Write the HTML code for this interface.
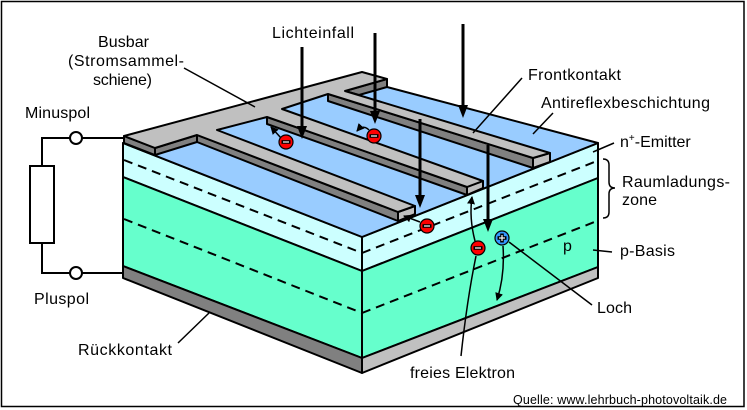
<!DOCTYPE html>
<html><head><meta charset="utf-8">
<style>
html,body{margin:0;padding:0;background:#fff;}
svg{display:block;}
text{font-family:"Liberation Sans",Arial,sans-serif;font-size:16px;fill:#000;}
</style></head><body>
<svg width="747" height="410" viewBox="0 0 747 410" xmlns="http://www.w3.org/2000/svg">
<defs>
<marker id="ah" markerWidth="8" markerHeight="8" refX="7" refY="4" orient="auto" markerUnits="userSpaceOnUse">
<path d="M0,0 L8,4 L0,8 Z" fill="#000"/>
</marker>
</defs>
<rect x="1.5" y="1.5" width="742.5" height="405" fill="#fff" stroke="#000" stroke-width="1.5"/>

<!-- block faces -->
<g stroke="#000" stroke-width="2" stroke-linejoin="round">
<polygon points="123,143 362,237 362,271 123,177" fill="#ccffff"/>
<polygon points="123,177 362,271 362,358 123,266" fill="#66ffcc"/>
<polygon points="123,266 362,358 362,373 123,278" fill="#808080"/>
<polygon points="362,237 598,143 598,178 362,271" fill="#ccffff"/>
<polygon points="362,271 598,178 598,267 362,358" fill="#66ffcc"/>
<polygon points="362,358 598,267 598,278 362,373" fill="#c0c0c0"/>
<polygon points="123,143 362,237 598,143 387,87 362,80" fill="#99ccff"/>
</g>

<!-- dashed junction lines -->
<g stroke="#000" stroke-width="2" stroke-dasharray="9,6" fill="none">
<line x1="124" y1="160" x2="362" y2="253"/>
<line x1="362" y1="253" x2="597" y2="161"/>
<line x1="124" y1="219" x2="362" y2="313"/>
<line x1="362" y1="313" x2="597" y2="221"/>
</g>

<!-- busbar & fingers -->
<g stroke="#000" stroke-width="2" stroke-linejoin="round">
<polygon points="124,136 155,148 155,155 124,143" fill="#808080"/>
<polygon points="155,148 197,135 197,142 155,155" fill="#808080"/>
<polygon points="197,135 398,212 398,221 197,142" fill="#808080"/>
<polygon points="398,212 415,206 415,214 398,221" fill="#c0c0c0"/>
<polygon points="267,117 467,187 467,195 267,124" fill="#808080"/>
<polygon points="467,187 483,181 483,188 467,195" fill="#c0c0c0"/>
<polygon points="328,94 533,158 533,168 328,101" fill="#808080"/>
<polygon points="533,158 550,153 550,162 533,168" fill="#c0c0c0"/>
<polygon points="345,91 387,79 387,87 359,95" fill="#808080"/>
<polygon points="124,136 362,72 387,79 345,91 550,153 533,158 328,94 282,109 483,181 467,187 267,117 217,130 415,206 398,212 197,135 155,148" fill="#c0c0c0"/>
</g>

<!-- circuit -->
<g stroke="#000" stroke-width="2" fill="none">
<line x1="123" y1="138" x2="82" y2="138"/>
<polyline points="70,138 42,138 42,166"/>
<rect x="30" y="166" width="24" height="77" fill="#fff"/>
<polyline points="42,243 42,273 70,273"/>
<line x1="82" y1="273" x2="123" y2="273"/>
<circle cx="76" cy="138" r="6" fill="#fff"/>
<circle cx="76" cy="273" r="6" fill="#fff"/>
</g>

<!-- leader lines -->
<g stroke="#000" stroke-width="1.5" fill="none">
<line x1="184" y1="68" x2="255" y2="107"/>
<line x1="473" y1="133" x2="522" y2="78"/>
<line x1="533" y1="134" x2="553" y2="113"/>
<line x1="593" y1="152" x2="614" y2="143"/>
<line x1="593" y1="250" x2="612" y2="252"/>
<line x1="509" y1="242" x2="592" y2="305"/>
<path d="M476,256 Q467,300 461,356"/>
<line x1="178" y1="343" x2="209" y2="313"/>
<path d="M603,159 Q609,159 609,165 L609,182 Q609,188 615,188 Q609,188 609,194 L609,212 Q609,218 603,218"/>
</g>

<!-- carrier arrows -->
<g stroke="#000" stroke-width="1.5" fill="none" marker-end="url(#ah)">
<path d="M281,138 L271,127"/>
<path d="M369,130 Q363,124 357,131"/>
<path d="M420,222 L404,216"/>
<path d="M475,241 Q469,218 472,197"/>
<path d="M503,246 Q505,275 497,300"/>
</g>

<!-- electrons -->
<g stroke="#000" stroke-width="1.2">
<circle cx="286" cy="142" r="7" fill="#ff0000"/>
<circle cx="374" cy="136" r="7" fill="#ff0000"/>
<circle cx="427" cy="226" r="7" fill="#ff0000"/>
<circle cx="478" cy="248" r="7" fill="#ff0000"/>
<circle cx="502" cy="238" r="7" fill="#3399ff"/>
</g>
<g fill="#000">
<rect x="281.5" y="140.2" width="9" height="3.6"/>
<rect x="369.5" y="134.2" width="9" height="3.6"/>
<rect x="422.5" y="224.2" width="9" height="3.6"/>
<rect x="473.5" y="246.2" width="9" height="3.6"/>
<rect x="497.5" y="236.2" width="9" height="3.6"/>
<rect x="500.2" y="233.5" width="3.6" height="9"/>
</g>
<g fill="#fff">
<rect x="283" y="141.4" width="6" height="1.2"/>
<rect x="371" y="135.4" width="6" height="1.2"/>
<rect x="424" y="225.4" width="6" height="1.2"/>
<rect x="475" y="247.4" width="6" height="1.2"/>
<rect x="499" y="237.4" width="6" height="1.2"/>
<rect x="501.4" y="235" width="1.2" height="6"/>
</g>

<!-- light arrows -->
<g stroke="#000" stroke-width="3">
<line x1="302" y1="47" x2="302" y2="128"/>
<line x1="375" y1="33" x2="375" y2="113"/>
<line x1="463" y1="24" x2="463" y2="107"/>
<line x1="420" y1="119" x2="420" y2="197"/>
<line x1="488" y1="145" x2="488" y2="221"/>
</g>
<g fill="#000">
<polygon points="297,126 307,126 302,139"/>
<polygon points="370,111 380,111 375,124"/>
<polygon points="458,105 468,105 463,118"/>
<polygon points="415,195 425,195 420,208"/>
<polygon points="483,219 493,219 488,232"/>
</g>

<!-- labels -->
<text x="98" y="47" textLength="51">Busbar</text>
<text x="68" y="66" textLength="116">(Stromsammel-</text>
<text x="93" y="85" textLength="59">schiene)</text>
<text x="272" y="38" textLength="82">Lichteinfall</text>
<text x="528" y="80" textLength="93">Frontkontakt</text>
<text x="541" y="108" textLength="169">Antireflexbeschichtung</text>
<text x="620" y="147">n<tspan font-size="10" dy="-6">+</tspan><tspan dy="6">-Emitter</tspan></text>
<text x="622" y="187" textLength="108">Raumladungs-</text>
<text x="622" y="205" textLength="35">zone</text>
<text x="620" y="256" textLength="55">p-Basis</text>
<text x="563" y="251">p</text>
<text x="597" y="313" textLength="35">Loch</text>
<text x="410" y="378" textLength="105">freies Elektron</text>
<text x="25" y="118" textLength="65">Minuspol</text>
<text x="34" y="304" textLength="55">Pluspol</text>
<text x="78" y="355" textLength="94">Rückkontakt</text>
<text x="513" y="404" style="font-size:12.5px" textLength="214">Quelle: www.lehrbuch-photovoltaik.de</text>
</svg>
</body></html>
